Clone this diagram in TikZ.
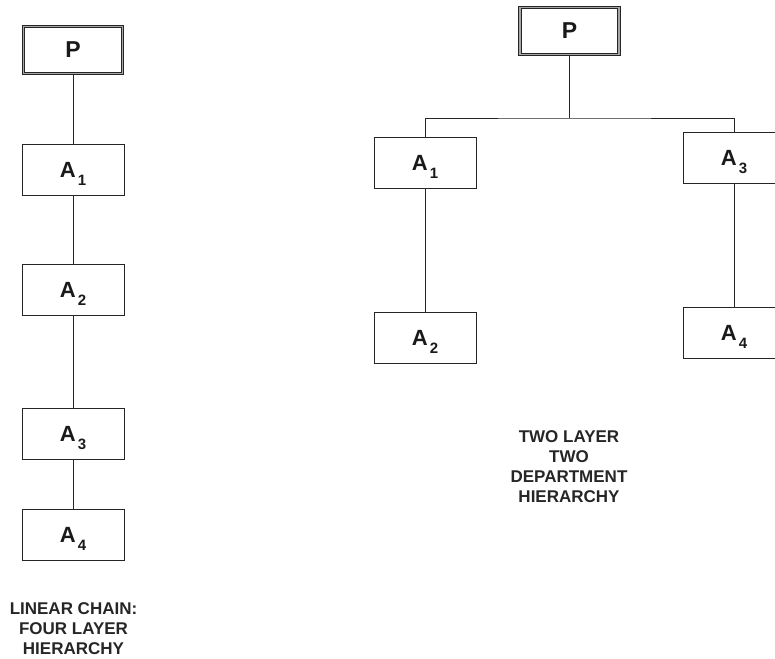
\documentclass[tikz,border=0pt]{standalone}
\usepackage{fontspec}
\setmainfont{Liberation Sans}
\newcommand{\lbl}[2]{#1\kern2pt\raisebox{-8pt}[0pt][0pt]{\fontsize{15}{15}\selectfont #2}}
\begin{document}
\begin{tikzpicture}[x=1pt,y=-1pt,
  box/.style={draw=black!85,line width=1pt,minimum width=102pt,minimum height=51pt,inner sep=0pt,
    font=\fontsize{22}{22}\selectfont\bfseries,text=black!90},
  pbox/.style={box,draw=black!85,double=black!35,double distance=1.6pt,line width=0.8pt,minimum width=99pt,minimum height=47pt,
    font=\fontsize{23}{23}\selectfont\bfseries},
  conn/.style={draw=black!85,line width=1pt},
  captext/.style={align=center,font=\fontsize{17}{20}\selectfont\bfseries,text=black!85}]
\useasboundingbox (0,0) rectangle (775,658);
\clip (0,0) rectangle (775,658);
% left chain
\node[pbox] (lP) at (73,50) {P};
\node[box] (lA1) at (73,170) {\lbl{A}{1}};
\node[box] (lA2) at (73,290) {\lbl{A}{2}};
\node[box] (lA3) at (73,433.5) {\lbl{A}{3}};
\node[box] (lA4) at (73,535) {\lbl{A}{4}};
\draw[conn] (lP) -- (lA1);
\draw[conn] (lA1) -- (lA2);
\draw[conn] (lA2) -- (lA3);
\draw[conn] (lA3) -- (lA4);
\node[captext] (lcap) at (73.5,629) {LINEAR CHAIN:\\FOUR LAYER\\HIERARCHY};
% right tree
\node[pbox] (rP) at (569.5,31) {P};
\node[box] (rA1) at (425,162.5) {\lbl{A}{1}};
\node[box] (rA2) at (425,338) {\lbl{A}{2}};
\node[box] (rA3) at (734,157.5) {\lbl{A}{3}};
\node[box] (rA4) at (734,333) {\lbl{A}{4}};
\coordinate (j) at (569.5,118);
\draw[conn,line width=1.4pt] (rP) -- (j);
\draw[conn] (rA1.north) |- (j) -| (rA3.north);
\draw[conn] (rA1) -- (rA2);
\draw[conn] (rA3) -- (rA4);
\node[captext] (rcap) at (569,467) {TWO LAYER\\TWO\\DEPARTMENT\\HIERARCHY};
\end{tikzpicture}
\end{document}
